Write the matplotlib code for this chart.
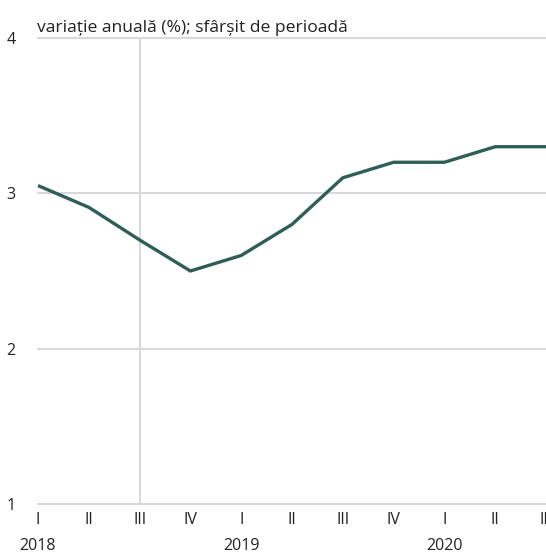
import matplotlib
matplotlib.use("Agg")
import matplotlib.pyplot as plt
import matplotlib.transforms as mtransforms

quarters = ["I", "II", "III", "IV", "I", "II", "III", "IV", "I", "II", "III"]
years = ["2018", "2019", "2020"]
year_pos = [0, 4, 8]
values = [3.05, 2.91, 2.70, 2.50, 2.60, 2.80, 3.10, 3.20, 3.20, 3.30, 3.30]
yticks = [1, 2, 3, 4]
title = "variație anuală (%); sfârșit de perioadă"

plt.rcParams['font.family'] = ['Open Sans', 'DejaVu Sans']
tick_fs = 11.5

fig = plt.figure(figsize=(5.46, 5.54), dpi=100)
ax = fig.add_axes([38/546, 1-504/554, 1-38/546, (504-38)/554])
x = list(range(len(values)))
ax.set_xlim(0, 10)
ax.set_ylim(1, 4)
ax.set_yticks(yticks)
ax.set_xticks(x)
ax.set_xticklabels(quarters, fontsize=tick_fs, color="#222222")
ax.set_yticklabels([str(v) for v in yticks], fontsize=tick_fs, color="#222222")
ax.tick_params(axis='both', length=0)
ax.tick_params(axis='x', pad=6)
ax.tick_params(axis='y', pad=16)
for s in ax.spines.values():
    s.set_visible(False)
for v in yticks:
    ax.axhline(v, color="#d9d9d9", lw=1.5, zorder=1, clip_on=False)
ax.axvline(2, color="#d9d9d9", lw=1.5, zorder=1)
ax.plot(x, values, color="#2f5e57", lw=2.4, zorder=3, clip_on=False, solid_capstyle='butt')

trans = mtransforms.blended_transform_factory(ax.transData, ax.transAxes)
for p, yl in zip(year_pos, years):
    ax.text(p, 0, yl, transform=trans + mtransforms.ScaledTranslation(0, -42/100, fig.dpi_scale_trans),
            ha='center', va='center', fontsize=tick_fs, color="#222222")

fig.text(37/546, 1-28/554, title, ha='left', va='center', fontsize=12.6, color="#222222")

fig.savefig("out.png", dpi=100)
